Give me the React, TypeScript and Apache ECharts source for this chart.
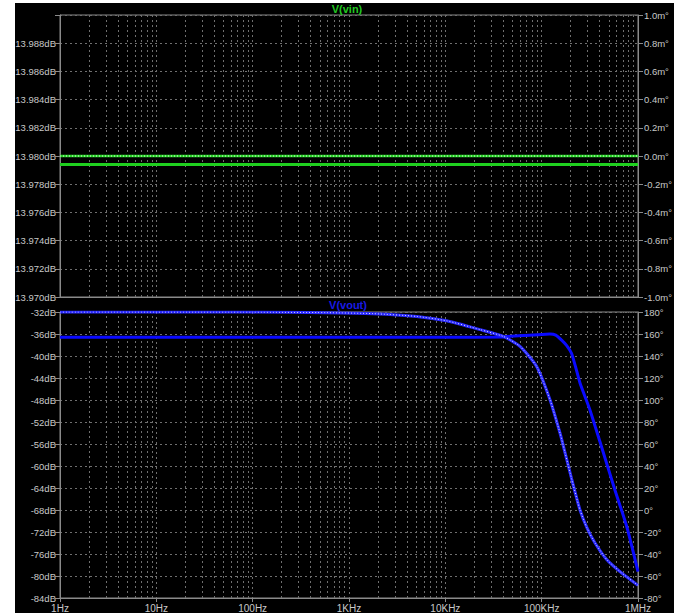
import React, { useEffect, useRef } from "react";
import * as echarts from "echarts";

// ---- data ----
const topFreq = [1, 1000000];
const vinMagDb = [13.9794, 13.9794];
const vinPhaseMilliDeg = [0, 0];

const magFreq = [1, 10, 100, 1000, 10000, 40000, 47000, 80000, 122000, 140000, 161000, 182000, 204000, 225000, 250000, 317000, 403000, 577000, 764000, 1000000];
const voutMagDb = [-36.6, -36.6, -36.6, -36.6, -36.6, -36.55, -36.4, -36.2, -36.0, -36.2, -37.1, -38.1, -39.5, -42.0, -44.9, -49.8, -55.6, -64.4, -71.0, -79.2];

const phaseFreq = [1, 100, 585, 1775, 5045, 10300, 22900, 40000, 59600, 88700, 122000, 155000, 175000, 205000, 250000, 298000, 358000, 473000, 650000, 1000000];
const voutPhaseDeg = [180, 179.9, 179.4, 178.5, 176, 172, 164, 157.8, 148.7, 130.5, 100.3, 70, 52, 28, 0, -17, -30, -45, -56, -68.5];

const xTickLabels = ["1Hz", "10Hz", "100Hz", "1KHz", "10KHz", "100KHz", "1MHz"];

// ---- styles ----
const GRID_COLOR = "#6f6f6f";
const AXIS_COLOR = "#8a8a8a";
const LABEL_COLOR = "#c8c8c8";
const FONT = "'Liberation Sans', Arial, sans-serif";

const minorLines: number[] = [];
for (let k = 0; k < 6; k++) {
  for (let m = 2; m <= 9; m++) minorLines.push(m * Math.pow(10, k));
}

function zip(xs: number[], ys: number[]) {
  return xs.map((x, i) => [x, ys[i]]);
}

export default function App() {
  const ref = useRef<HTMLDivElement>(null);
  useEffect(() => {
    if (!ref.current) return;
    const chart = echarts.init(ref.current, null, { renderer: "svg" });
    const labelStyle = { color: LABEL_COLOR, fontSize: 9.5, fontFamily: FONT };
    const dashed = { color: GRID_COLOR, type: [2, 3] as any, width: 1 };
    const xAxisBase = (gridIndex: number, showLabels: boolean) => ({
      type: "log",
      logBase: 10,
      gridIndex,
      min: 1,
      max: 1000000,
      axisLine: { show: true, onZero: false, lineStyle: { color: AXIS_COLOR } },
      axisTick: { show: showLabels, length: 4, lineStyle: { color: AXIS_COLOR } },
      splitLine: { show: true, lineStyle: dashed },
      axisLabel: {
        show: showLabels,
        ...labelStyle,
        fontSize: 10,
        margin: 5,
        formatter: (v: number) => {
          const i = Math.round(Math.log10(v));
          return xTickLabels[i] ?? "";
        },
      },
    });
    const minorMark = () => ({
      silent: true,
      symbol: ["none", "none"],
      z: 1,
      label: { show: false },
      lineStyle: dashed,
      emphasis: { disabled: true },
      data: minorLines.map((v) => ({ xAxis: v })),
    });
    const yAxisBase = {
      type: "value",
      axisLine: { show: true, onZero: false, lineStyle: { color: AXIS_COLOR } },
      axisTick: { show: true, length: 5, lineStyle: { color: AXIS_COLOR } },
    };
    chart.setOption({
      animation: false,
      backgroundColor: "#000",
      textStyle: { fontFamily: FONT },
      grid: [
        { left: 45, top: 12, width: 578, height: 282, show: true, borderColor: AXIS_COLOR, borderWidth: 1, backgroundColor: "transparent", containLabel: false, outerBoundsMode: "none" },
        { left: 45, top: 309, width: 578, height: 286, show: true, borderColor: AXIS_COLOR, borderWidth: 1, backgroundColor: "transparent", containLabel: false, outerBoundsMode: "none" },
      ],
      xAxis: [xAxisBase(0, false), xAxisBase(1, true)],
      yAxis: [
        {
          ...yAxisBase, gridIndex: 0, position: "left", min: 13.97, max: 13.99, interval: 0.002,
          splitLine: { show: true, lineStyle: dashed },
          axisLabel: {
            ...labelStyle, margin: 4,
            formatter: (v: number) => (Math.abs(v - 13.99) < 1e-6 ? "" : v.toFixed(3) + "dB"),
          },
        },
        {
          ...yAxisBase, gridIndex: 0, position: "right", min: -1, max: 1, interval: 0.2,
          splitLine: { show: false },
          axisLabel: {
            ...labelStyle, margin: 6,
            formatter: (v: number) => (Math.abs(v) < 1e-9 ? 0 : v).toFixed(1) + "m°",
          },
        },
        {
          ...yAxisBase, gridIndex: 1, position: "left", min: -84, max: -32, interval: 4,
          splitLine: { show: true, lineStyle: dashed },
          axisLabel: { ...labelStyle, margin: 4, formatter: (v: number) => v + "dB" },
        },
        {
          ...yAxisBase, gridIndex: 1, position: "right", min: -80, max: 180, interval: 20,
          splitLine: { show: false },
          axisLabel: { ...labelStyle, margin: 6, formatter: (v: number) => v + "°" },
        },
      ],
      series: [
        {
          name: "vin-grid", type: "line", xAxisIndex: 0, yAxisIndex: 0, data: [],
          z: 1, silent: true, markLine: minorMark(),
        },
        {
          name: "vout-grid", type: "line", xAxisIndex: 1, yAxisIndex: 2, data: [],
          z: 1, silent: true, markLine: minorMark(),
        },
        {
          name: "V(vin) mag", type: "line", xAxisIndex: 0, yAxisIndex: 0, z: 10,
          data: zip(topFreq, vinMagDb), showSymbol: false, silent: true,
          lineStyle: { color: "#1fd01f", width: 3 },
        },
        {
          name: "V(vin) phase", type: "line", xAxisIndex: 0, yAxisIndex: 1, z: 10,
          data: zip(topFreq, vinPhaseMilliDeg), showSymbol: false, silent: true,
          lineStyle: { color: "#2bd42b", width: 2.5 },
        },
        {
          name: "V(vin) phase dots", type: "line", xAxisIndex: 0, yAxisIndex: 1, z: 11,
          data: zip(topFreq, vinPhaseMilliDeg), showSymbol: false, silent: true,
          lineStyle: { color: "#e8ffe8", width: 1, type: [1, 2] },
        },
        {
          name: "V(vout) mag", type: "line", xAxisIndex: 1, yAxisIndex: 2, z: 10,
          data: zip(magFreq, voutMagDb), showSymbol: false, silent: true, smooth: 0.2,
          lineStyle: { color: "#0a0aff", width: 3 },
        },
        {
          name: "V(vout) phase", type: "line", xAxisIndex: 1, yAxisIndex: 3, z: 10,
          data: zip(phaseFreq, voutPhaseDeg), showSymbol: false, silent: true, smooth: 0.2,
          lineStyle: { color: "#2a2aff", width: 3 },
        },
        {
          name: "V(vout) phase dots", type: "line", xAxisIndex: 1, yAxisIndex: 3, z: 11,
          data: zip(phaseFreq, voutPhaseDeg), showSymbol: false, silent: true, smooth: 0.2,
          lineStyle: { color: "#e0e0ff", width: 1, type: [1, 2] },
        },
      ],
      graphic: [
        {
          type: "text", x: 332, y: 6, z: 100,
          style: { text: "V(vin)", fill: "#22c822", font: "bold 11px " + FONT, align: "center", verticalAlign: "middle" },
        },
        {
          type: "text", x: 333, y: 302, z: 100,
          style: { text: "V(vout)", fill: "#1a1ae6", font: "bold 11px " + FONT, align: "center", verticalAlign: "middle" },
        },
      ],
    });
    return () => chart.dispose();
  }, []);
  return (
    <div style={{ position: "fixed", left: 0, top: 0, width: 674, height: 613, background: "#fff" }}>
      <div ref={ref} style={{ position: "absolute", left: 15, top: 3, width: 659, height: 610 }} />
    </div>
  );
}
